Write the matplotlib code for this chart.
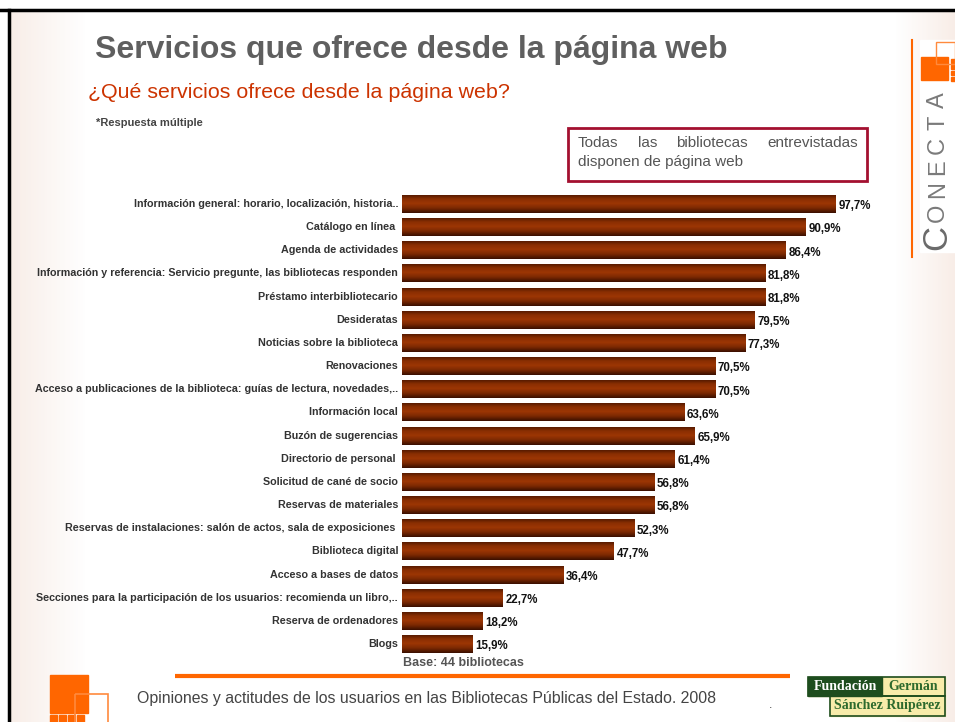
import numpy as np
import matplotlib.pyplot as plt
from matplotlib.patches import Rectangle
from matplotlib.colors import LinearSegmentedColormap

plt.rcParams['font.family'] = ['Liberation Sans', 'DejaVu Sans']

servicios = [
    "Información general: horario, localización, historia..",
    "Catálogo en línea ",
    "Agenda de actividades",
    "Información y referencia: Servicio pregunte, las bibliotecas responden",
    "Préstamo interbibliotecario",
    "Desideratas",
    "Noticias sobre la biblioteca",
    "Renovaciones",
    "Acceso a publicaciones de la biblioteca: guías de lectura, novedades,..",
    "Información local",
    "Buzón de sugerencias",
    "Directorio de personal ",
    "Solicitud de cané de socio",
    "Reservas de materiales",
    "Reservas de instalaciones: salón de actos, sala de exposiciones ",
    "Biblioteca digital",
    "Acceso a bases de datos",
    "Secciones para la participación de los usuarios: recomienda un libro,..",
    "Reserva de ordenadores",
    "Blogs",
]
porcentajes = [97.7, 90.9, 86.4, 81.8, 81.8, 79.5, 77.3, 70.5, 70.5, 63.6,
               65.9, 61.4, 56.8, 56.8, 52.3, 47.7, 36.4, 22.7, 18.2, 15.9]

W, H = 955, 722
fig = plt.figure(figsize=(W / 100, H / 100), dpi=100)
fig.patch.set_facecolor("white")

# fondo de la diapositiva (pixeles)
bg = fig.add_axes([0, 0, 1, 1])
bg.set_xlim(0, W)
bg.set_ylim(H, 0)
bg.axis("off")
# cortinas decorativas suaves
grad = np.linspace(1, 0, 80)[None, :]
curtain = LinearSegmentedColormap.from_list("c", ["white", "#f4e2d8"])
bg.imshow(grad, extent=(10, 85, H, 10), cmap=curtain, aspect="auto", alpha=0.6, zorder=0)
bg.imshow(grad[:, ::-1], extent=(895, W, H, 10), cmap=curtain, aspect="auto", alpha=0.6, zorder=0)
bg.add_patch(Rectangle((85, 12), 810, H, color="white", zorder=0.5))
bg.plot([0, W], [10, 10], color="black", lw=2.5, zorder=3)
bg.plot([9, 9], [10, H], color="black", lw=2.5, zorder=3)

bg.text(95, 50, "Servicios que ofrece desde la página web", fontsize=23,
        fontweight="bold", color="#5f5f5f", va="center", ha="left")
bg.text(88, 92, "¿Qué servicios ofrece desde la página web?", fontsize=15.4,
        color="#cc3300", va="center", ha="left")
bg.text(96, 123, "*Respuesta múltiple", fontsize=8, fontweight="bold",
        color="#444444", va="center", ha="left")

# recuadro
bg.add_patch(Rectangle((568, 128), 299, 53, fill=False, edgecolor="#a31030", lw=2, zorder=3))
words = ["Todas", "las", "bibliotecas", "entrevistadas"]
fig.canvas.draw()
r = fig.canvas.get_renderer()
objs = [bg.text(0, 143, w, fontsize=11, color="#555555", va="center", ha="left") for w in words]
widths = [o.get_window_extent(r).width for o in objs]
gap = (858 - 578 - sum(widths)) / (len(words) - 1)
x = 578
for o, w in zip(objs, widths):
    o.set_x(x)
    x += w + gap
bg.text(578, 162, "disponen de página web", fontsize=11, color="#555555", va="center", ha="left")

# grafico de barras
ax = fig.add_axes([402 / W, 1 - 655.6 / H, 444 / W, 463.2 / H])
ax.axis("off")
ax.patch.set_alpha(0)

bar_cmap = LinearSegmentedColormap.from_list(
    "barra", ["#4a1600", "#8a2e02", "#9c3604", "#7a2802", "#3a0f00"])
gv = np.linspace(0, 1, 64)[:, None]
y = np.arange(len(servicios))
bars = ax.barh(y, porcentajes, height=0.78, color="#8a2e02")
for b in bars:
    x0, y0, w, h = b.get_x(), b.get_y(), b.get_width(), b.get_height()
    im = ax.imshow(gv, extent=(x0, x0 + w, y0 + h, y0), cmap=bar_cmap,
                   aspect="auto", zorder=2)
    im.set_clip_path(b)
ax.set_xlim(0, 100)
ax.set_ylim(len(servicios) - 0.5, -0.5)

for i, (s, p) in enumerate(zip(servicios, porcentajes)):
    ax.text(-0.9, i, s, ha="right", va="center", fontsize=7.75,
            fontweight="bold", color="#333333")
    ax.text(p + 0.6, i + 0.1, f"{p:.1f}%".replace(".", ","), ha="left", va="center",
            fontsize=8.3, fontweight="bold", color="#111111")

bg.text(463, 663, "Base: 44 bibliotecas", fontsize=9, fontweight="bold",
        color="#555555", ha="center", va="center")

# pie de pagina
bg.plot([175, 790], [676, 676], color="#ff6600", lw=3, solid_capstyle="butt")
bg.text(137, 699, "Opiniones y actitudes de los usuarios en las Bibliotecas Públicas del Estado. 2008",
        fontsize=11.4, color="#444444", ha="left", va="center")
bg.text(769, 705, ".", fontsize=9, color="#444444", ha="left", va="center")

# logo naranja inferior
bg.add_patch(Rectangle((50, 675), 38, 38, color="#ff6600", zorder=2))
bg.add_patch(Rectangle((75, 694), 33, 30, fill=False, edgecolor="#ff8a3d", lw=1.2, zorder=3))
for k in range(4):
    bg.add_patch(Rectangle((50 + k * 9, 715), 7, 8, color="#ff6600", zorder=2))

# logo Fundacion
serif = ["Liberation Serif", "DejaVu Serif"]
bg.add_patch(Rectangle((808, 677), 137, 19, color="#f8ecaa", zorder=2))
bg.add_patch(Rectangle((830, 696), 115, 20, color="#f8ecaa", zorder=2))
bg.add_patch(Rectangle((808, 677), 74, 19, color="#1e4d1e", zorder=3))
bg.add_patch(Rectangle((808, 677), 137, 19, fill=False, edgecolor="#1e4d1e", lw=1.2, zorder=4))
bg.add_patch(Rectangle((830, 696), 115, 20, fill=False, edgecolor="#1e4d1e", lw=1.2, zorder=4))
bg.text(845, 686.5, "Fundación", fontsize=10, fontweight="bold", color="white",
        ha="center", va="center", zorder=5, family=serif)
bg.text(913, 686.5, "Germán", fontsize=10, fontweight="bold", color="#2d6a2d",
        ha="center", va="center", zorder=5, family=serif)
bg.text(887, 706, "Sánchez Ruipérez", fontsize=10, fontweight="bold", color="#2d6a2d",
        ha="center", va="center", zorder=5, family=serif)

# logo CONECTA
bg.plot([912, 912], [40, 257], color="#ff6600", lw=1.5)
bg.add_patch(Rectangle((920, 40), 35, 212, color="white", zorder=2))
bg.add_patch(Rectangle((921, 57), 27, 23, color="#ff6600", zorder=3))
bg.add_patch(Rectangle((936, 42), 19, 22, fill=False, edgecolor="#ff8a3d", lw=1, zorder=4))
for k in range(4):
    bg.add_patch(Rectangle((951, 59 + k * 6), 4, 4, color="#ff6600", zorder=3))
letras = ["A", "T", "C", "E", "N", "O"]
for k, l in enumerate(letras):
    bg.text(938, 100 + k * 22.5, l, rotation=90, fontsize=17, color="#7a7a7a",
            ha="center", va="center", zorder=4)
bg.text(937, 238, "C", rotation=90, fontsize=25, color="#6a6a6a",
        ha="center", va="center", zorder=4)

fig.savefig("out.png", dpi=100)
